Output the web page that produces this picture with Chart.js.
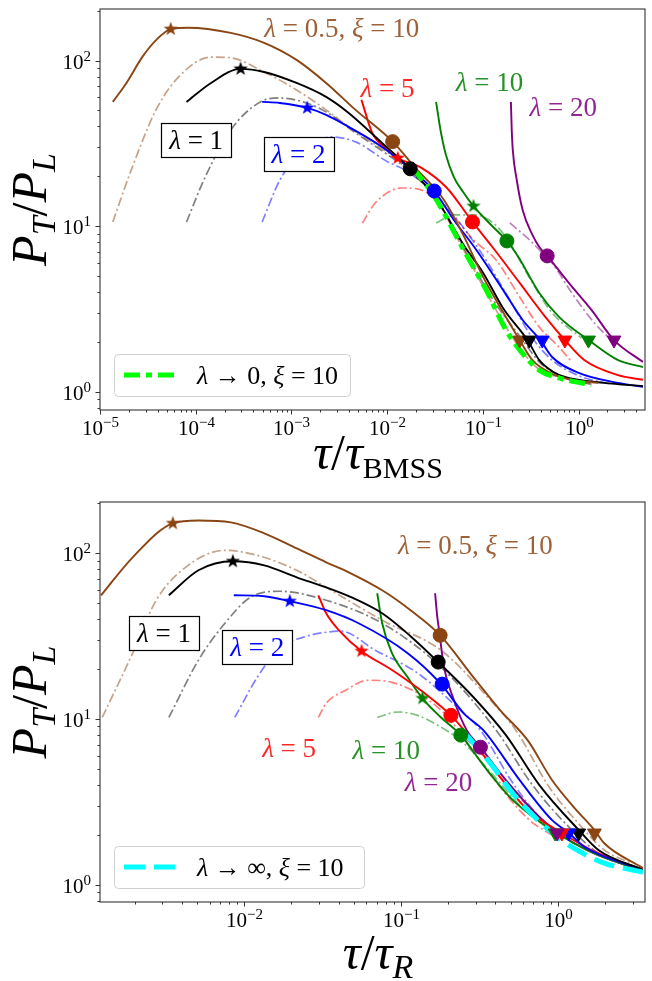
<!DOCTYPE html>
<html>
<head>
<meta charset="utf-8">
<script src="https://cdn.jsdelivr.net/npm/chart.js@4.4.1/dist/chart.umd.min.js"></script>
<style>
  html, body { margin: 0; padding: 0; background: #fff; }
  #wrap { position: relative; width: 652px; height: 981px; }
  canvas { position: absolute; left: 0; }
</style>
</head>
<body>
<div id="wrap">
  <canvas id="topChart" width="652" height="490" style="top:0"></canvas>
  <canvas id="bottomChart" width="652" height="491" style="top:490px"></canvas>
</div>
<script>
const lambdaNames = ['0.5', '1', '2', '5', '10', '20'];
const lambdaColors = ['#8b4513', '#000000', '#0000ff', '#ff0000', '#008000', '#800080'];
const lambdaFaded = ['rgba(139,69,19,0.5)', 'rgba(0,0,0,0.5)', 'rgba(0,0,255,0.5)',
  'rgba(255,0,0,0.5)', 'rgba(0,128,0,0.5)', 'rgba(128,0,128,0.5)'];

// ---- top panel: x = tau / tau_BMSS, y = P_T / P_L ----
const topSolid05 = [[1.36e-5,56.3],[1.89e-5,73.3],[2.76e-5,105],[3.85e-5,133],[5.48e-5,155],[8.4e-5,158],[2.32e-4,147],[5.18e-4,128],[1.13e-3,101],[2.3e-3,73.3],[4.67e-3,50.4],[1.14e-2,32.4],[1.93e-2,22.8],[3.92e-2,14.4],[6.29e-2,8.73],[0.101,4.9],[0.162,3.03],[0.242,2.05],[0.329,1.55],[0.528,1.28],[0.848,1.18],[1.6,1.13]];
const topSolid1 = [[8.01e-5,56.3],[1.445e-4,73.3],[2.94e-4,89.1],[5.18e-4,85.4],[1.13e-3,73.3],[2.3e-3,60.4],[3.96e-3,48.3],[8.84e-3,31.8],[1.74e-2,22.2],[3.32e-2,14.4],[6.29e-2,7.7],[0.101,5.2],[0.162,3.2],[0.292,2.05],[0.388,1.55],[0.528,1.33],[0.718,1.23],[1.85,1.13],[4.7,1.08]];
const topSolid2 = [[4.94e-4,56.3],[7.57e-4,55.5],[1.46e-3,51.8],[2.3e-3,47.0],[3.96e-3,39.8],[8.84e-3,30.1],[1.71e-2,22.3],[3.1e-2,16.3],[4.97e-2,10.9],[8.55e-2,7.18],[0.162,4.12],[0.26,2.71],[0.398,2.05],[0.528,1.62],[1.0,1.30],[2.58,1.13],[4.7,1.07]];
const topSolid5 = [[5.38e-3,57.9],[6.98e-3,36.6],[9.49e-3,29.7],[1.29e-2,25.8],[2.28e-2,22.5],[4.21e-2,17.0],[7.78e-2,10.6],[0.128,7.38],[0.242,4.54],[0.448,2.83],[0.718,2.05],[1.152,1.55],[2.58,1.26],[4.7,1.18]];
const topSolid10 = [[3.24e-2,56.3],[3.65e-2,36.6],[4.11e-2,26.9],[4.97e-2,19.8],[6.29e-2,15.9],[7.97e-2,13.2],[0.119,10.3],[0.178,8.14],[0.231,6.61],[0.388,3.95],[0.623,2.83],[1.267,2.05],[2.58,1.55],[4.7,1.41]];
const topSolid20 = [[0.196,56.3],[0.2,38.1],[0.205,28.9],[0.2256,19.0],[0.26,12.5],[0.329,8.85],[0.388,7.48],[0.469,6.61],[0.789,4.54],[1.36,3.12],[2.34,2.05],[4.7,1.51]];

const topDash05 = [[1.36e-5,10.6],[2.18e-5,22.8],[3.85e-5,50.4],[6.63e-5,79.7],[1.445e-4,105],[2.32e-4,104],[5.18e-4,85.4],[1.13e-3,66.5],[2.3e-3,50.4],[4.67e-3,37.1],[1.02e-2,27.7],[1.52e-2,22.8],[3.1e-2,15.2],[6.29e-2,7.18],[0.128,3.34],[0.231,1.91],[0.37,1.39],[0.848,1.18],[1.36,1.11]];
const topDash1 = [[8.01e-5,10.6],[1.255e-4,19.8],[2.32e-4,38.1],[4.72e-4,56.3],[7.57e-4,59.5],[1.43e-3,55.5],[2.3e-3,49.0],[4.67e-3,36.6],[1.02e-2,26.9],[1.8e-2,21.0],[3.32e-2,14.4],[6.29e-2,7.38],[0.128,3.58],[0.26,2.05],[0.388,1.51],[0.718,1.21],[1.36,1.11]];
const topDash2 = [[4.94e-4,10.6],[7.57e-4,19.0],[1.13e-3,25.8],[2.59e-3,34.6],[4.67e-3,32.3],[1.02e-2,24.4],[1.52e-2,21.9],[3.32e-2,15.2],[9.63e-2,6.89],[0.191,3.58],[0.329,2.11],[0.528,1.55],[1.07,1.23],[2.18,1.11]];
const topDash5 = [[5.51e-3,10.45],[7.5e-3,13.8],[1.42e-2,17.0],[2.07e-2,16.8],[3.32e-2,14.4],[4.97e-2,11.4],[7.97e-2,8.25],[0.137,6.25],[0.242,3.73],[0.388,2.46],[0.623,1.86],[0.848,1.51]];
const topDash10 = [[3.24e-2,10.45],[4.97e-2,11.7],[7.97e-2,11.7],[0.128,10.45],[0.182,8.25],[0.329,4.54],[0.528,2.99],[1.07,2.11]];
const topDash20 = [[0.191,10.45],[0.307,8.25],[0.417,6.89],[0.528,5.99],[0.848,3.95],[1.46,2.60],[2.18,2.05]];

const topLimit = [[1.84e-2,22.5],[3.1e-2,15.2],[6.29e-2,7.18],[0.108,4.12],[0.174,2.36],[0.242,1.79],[0.388,1.35],[0.623,1.21],[1.36,1.10]];

const topStars = [[5.48e-5,155],[2.94e-4,89.1],[1.46e-3,51.8],[1.29e-2,25.8],[7.97e-2,13.2]];
const topCircles = [[1.14e-2,32.4],[1.74e-2,22.2],[3.1e-2,16.3],[7.78e-2,10.6],[0.178,8.14],[0.469,6.61]];
const topTriangles = [[0.242,2.05],[0.305,2.05],[0.417,2.05],[0.718,2.05],[1.267,2.05],[2.34,2.05]];

// ---- bottom panel: x = tau / tau_R ----
const botSolid05 = [[1.22e-3,55.6],[1.94e-3,94.2],[3.5e-3,151],[5.1e-3,157],[8.2e-3,153],[1.34e-2,131.5],[2.16e-2,106.7],[3.33e-2,87.9],[4.64e-2,76.5],[7.58e-2,59.6],[0.115,45.2],[0.178,31.9],[0.29,17.8],[0.4285,11.3],[0.642,7.44],[0.921,4.27],[1.265,2.94],[1.714,2.14],[1.98,1.78],[3.5,1.26]];
const botSolid1 = [[3.3e-3,55.6],[5.1e-3,78.7],[8.45e-3,89.1],[1.34e-2,84.3],[2.16e-2,71.4],[3.33e-2,62.1],[4.64e-2,55],[7.58e-2,43.3],[0.115,31.5],[0.1726,22.0],[0.29,13.5],[0.467,7.98],[0.7635,3.99],[1.36,2.14],[1.816,1.62],[3.5,1.23]];
const botSolid2 = [[8.57e-3,55.6],[1.34e-2,54.9],[1.95e-2,51.2],[3.33e-2,45.2],[5.36e-2,37.7],[0.1103,24.9],[0.18,16.2],[0.2513,10.8],[0.335,8.55],[0.572,4.27],[0.921,2.45],[1.177,2.05],[1.483,1.69],[3.5,1.23]];
const botSolid5 = [[2.97e-2,55.6],[3.33e-2,43.3],[4.02e-2,34.2],[5.6e-2,25.6],[8.76e-2,19.7],[0.141,14.3],[0.208,10.5],[0.278,7.65],[0.4285,4.46],[0.642,2.82],[1.064,2.05],[1.641,1.62],[3.5,1.23]];
const botSolid10 = [[7.05e-2,57.2],[7.58e-2,37.7],[8.76e-2,24.9],[0.1103,17.8],[0.137,13.3],[0.18,10.2],[0.2406,7.98],[0.335,5.26],[0.517,3.24],[0.962,2.08],[1.641,1.57],[3.5,1.21]];
const botSolid20 = [[0.165,57.2],[0.17,42.1],[0.175,34.2],[0.188,20.5],[0.2175,13.0],[0.2624,8.55],[0.321,6.75],[0.467,4.27],[0.7635,2.56],[0.99,2.08],[1.641,1.57],[3.5,1.21]];

const botDash05 = [[1.24e-3,10.2],[1.94e-3,24.9],[2.74e-3,51.9],[4.22e-3,82],[7.52e-3,103.8],[1.21e-2,96.8],[2.16e-2,78.7],[3.33e-2,62.1],[7.58e-2,39.3],[0.18,25.9],[0.371,13.0],[0.54,8.55],[0.882,3.88],[1.42,2.23],[1.98,1.62],[2.92,1.35]];
const botDash1 = [[3.3e-3,10.2],[5.1e-3,22.6],[7.52e-3,37.7],[1.095e-2,54.1],[1.69e-2,58.8],[3.33e-2,51.9],[7.58e-2,37.7],[0.18,20.5],[0.4046,8.55],[0.69,3.99],[1.229,2.14],[1.896,1.51],[3.38,1.23]];
const botDash2 = [[8.69e-3,10.2],[1.21e-2,17.8],[1.69e-2,27.0],[2.39e-2,31.1],[3.33e-2,33.3],[4.13e-2,33.8],[6.85e-2,25.9],[0.1274,18.9],[0.227,11.8],[0.321,8.55],[0.517,4.1],[0.8325,2.35],[1.144,1.91]];
const botDash5 = [[2.97e-2,10.2],[3.33e-2,12.4],[4.44e-2,14.9],[6.19e-2,17.1],[8.76e-2,16.6],[0.141,13.5],[0.202,10.1],[0.27,6.94],[0.4285,3.88],[0.661,2.45],[0.921,1.99]];
const botDash10 = [[7.05e-2,10.2],[9.55e-2,11.0],[0.1274,10.5],[0.18,8.91],[0.2513,7.14],[0.387,4.58],[0.5975,2.90],[0.921,2.08]];
const botDash20 = [[0.2513,7.65],[0.29,6.94],[0.4475,4.27],[0.742,2.63],[0.99,2.08]];

const botLimit = [[0.2624,7.98],[0.371,5.41],[0.54,3.38],[0.8325,2.23],[1.229,1.69],[1.98,1.35],[3.5,1.19]];

const botStars = [[3.5e-3,151],[8.45e-3,89.1],[1.95e-2,51.2],[5.6e-2,25.6],[0.137,13.3]];
const botCircles = [[0.1777,31.9],[0.1726,22.0],[0.183,16.2],[0.208,10.5],[0.2406,7.98],[0.321,6.75]];
const botTriangles = [[1.714,2.05],[1.36,2.05],[1.177,2.05],[1.064,2.05],[0.962,2.05],[0.99,2.05]];

const SERIF = '"Liberation Serif", "DejaVu Serif", serif';
const font = (size, italic) => (italic ? 'italic ' : '') + size + 'px ' + SERIF;

// [text, italic, size, dy]
const NOTE = 27;
const lam = (rest) => [['λ', 1, NOTE], [rest, 0, NOTE]];
const lamXi = (mid) => [['λ', 1, NOTE], [mid, 0, NOTE], ['ξ', 1, NOTE], [' = 10', 0, NOTE]];

function makeStar(color) {
  const c = document.createElement('canvas');
  c.width = 18; c.height = 18;
  const g = c.getContext('2d');
  g.beginPath();
  for (let k = 0; k < 10; k++) {
    const r = k % 2 === 0 ? 7.5 : 3.0;
    const a = -Math.PI / 2 + k * Math.PI / 5;
    g.lineTo(9 + r * Math.cos(a), 9 + r * Math.sin(a));
  }
  g.closePath();
  g.fillStyle = color;
  g.fill();
  return c;
}
const starImages = lambdaColors.map(makeStar);

function lineSet(points, color, dashed, order) {
  return {
    data: points.map(([x, y]) => ({ x, y })),
    showLine: true,
    borderColor: color,
    borderWidth: dashed ? 1.7 : 1.9,
    borderDash: dashed ? [9, 3, 2, 3] : [],
    pointRadius: 0,
    cubicInterpolationMode: 'monotone',
    fill: false,
    order,
  };
}

function markerSet(points, style, radius, rotation) {
  const cols = points.map((_, i) => lambdaColors[i]);
  return {
    data: points.map(([x, y]) => ({ x, y })),
    showLine: false,
    pointStyle: style === 'star' ? points.map((_, i) => starImages[i]) : style,
    pointRadius: radius,
    pointRotation: rotation,
    pointBackgroundColor: cols,
    pointBorderColor: cols,
    pointBorderWidth: 1,
    order: 0,
  };
}

function drawRich(ctx, parts, x, y, align) {
  let w = 0;
  for (const p of parts) { ctx.font = font(p[2], p[1]); w += ctx.measureText(p[0]).width; }
  let cx = align === 'center' ? x - w / 2 : align === 'right' ? x - w : x;
  ctx.textAlign = 'left';
  ctx.textBaseline = 'alphabetic';
  for (const p of parts) {
    ctx.font = font(p[2], p[1]);
    ctx.fillText(p[0], cx, y + (p[3] || 0));
    cx += ctx.measureText(p[0]).width;
  }
  return w;
}

function logTicks(min, max) {
  const out = [];
  for (let e = Math.floor(Math.log10(min)); e <= Math.ceil(Math.log10(max)); e++) {
    for (let m = 1; m < 10; m++) {
      const v = m * Math.pow(10, e);
      if (v >= min * 0.999 && v <= max * 1.001) out.push({ v, major: m === 1, e });
    }
  }
  return out;
}

function powLabel(e) {
  return [['10', 0, 21], [e < 0 ? '\u2212' + (-e) : String(e), 0, 15, -8]];
}

const panelDecor = {
  id: 'panelDecor',
  afterDraw(chart, args, o) {
    const ctx = chart.ctx;
    const a = chart.chartArea;
    const xs = chart.scales.x, ys = chart.scales.y;
    ctx.save();
    ctx.strokeStyle = '#333';
    ctx.fillStyle = '#000';
    ctx.lineWidth = 1.1;
    ctx.strokeRect(a.left, a.top, a.right - a.left + 2, a.bottom - a.top);

    ctx.lineWidth = 1;
    for (const t of logTicks(xs.min, xs.max)) {
      const px = Math.round(xs.getPixelForValue(t.v)) + 0.5;
      ctx.beginPath();
      ctx.moveTo(px, a.bottom);
      ctx.lineTo(px, a.bottom + (t.major ? 4.5 : 2.5));
      ctx.stroke();
      if (t.major) drawRich(ctx, powLabel(t.e), px, a.bottom + 25, 'center');
    }
    for (const t of logTicks(ys.min, ys.max)) {
      const py = Math.round(ys.getPixelForValue(t.v)) + 0.5;
      ctx.beginPath();
      ctx.moveTo(a.left, py);
      ctx.lineTo(a.left - (t.major ? 4.5 : 2.5), py);
      ctx.stroke();
      if (t.major) drawRich(ctx, powLabel(t.e), a.left - 9, py + 7, 'right');
    }

    // axis titles
    drawRich(ctx, o.xTitle, o.xTitleX, a.bottom + o.xTitleDy, 'center');
    ctx.save();
    ctx.translate(46, (a.top + a.bottom) / 2);
    ctx.rotate(-Math.PI / 2);
    drawRich(ctx, [['P', 1, 50], ['T', 1, 34, 9], ['/', 0, 50], ['P', 1, 50], ['L', 1, 34, 9]], 0, 0, 'center');
    ctx.restore();

    // text labels placed in data coordinates
    for (const n of o.notes) {
      const px = xs.getPixelForValue(n.x), py = ys.getPixelForValue(n.y);
      if (n.box) {
        let w = 0;
        for (const p of n.text) { ctx.font = font(p[2], p[1]); w += ctx.measureText(p[0]).width; }
        const bw = w + 16, bh = 34;
        ctx.fillStyle = '#fff';
        ctx.fillRect(px - bw / 2, py - bh / 2, bw, bh);
        ctx.strokeStyle = '#000';
        ctx.lineWidth = 1.2;
        ctx.strokeRect(Math.round(px - bw / 2) + 0.5, Math.round(py - bh / 2) + 0.5, Math.round(bw), bh);
        ctx.fillStyle = n.color;
        drawRich(ctx, n.text, px, py + 9, 'center');
      } else {
        ctx.fillStyle = n.color;
        drawRich(ctx, n.text, px, py + 9, n.align || 'left');
      }
    }

    // legend
    const L = o.legend;
    const lx = a.left + 14, ly = a.bottom - 14 - 42;
    ctx.fillStyle = 'rgba(255,255,255,0.85)';
    ctx.strokeStyle = '#d0d0d0';
    ctx.lineWidth = 1;
    ctx.beginPath();
    ctx.roundRect(lx + 0.5, ly + 0.5, L.width, 42, 4);
    ctx.fill();
    ctx.stroke();
    ctx.strokeStyle = L.color;
    ctx.lineWidth = 5;
    ctx.setLineDash(L.dash);
    ctx.beginPath();
    ctx.moveTo(lx + 10, ly + 21);
    ctx.lineTo(lx + 61, ly + 21);
    ctx.stroke();
    ctx.setLineDash([]);
    ctx.fillStyle = '#000';
    drawRich(ctx, L.text, lx + 83, ly + 30, 'left');
    ctx.restore();
  }
};

function buildPanel(id, p) {
  const datasets = [];
  p.markers.forEach(m => datasets.push(m));
  datasets.push({
    ...lineSet(p.limit, p.limitColor, false, 1),
    borderWidth: 5,
    borderDash: p.limitDash,
  });
  p.solid.forEach((pts, i) => datasets.push(lineSet(pts, lambdaColors[i], false, 2)));
  p.dash.forEach((pts, i) => datasets.push(lineSet(pts, lambdaFaded[i], true, 3)));

  return new Chart(document.getElementById(id), {
    type: 'scatter',
    data: { datasets },
    options: {
      responsive: false,
      animation: false,
      events: [],
      layout: { padding: { left: 100, top: p.top, right: 0, bottom: p.bottom } },
      scales: {
        x: { type: 'logarithmic', min: p.xMin, max: p.xMax, display: false },
        y: { type: 'logarithmic', min: p.yMin, max: p.yMax, display: false },
      },
      plugins: {
        legend: { display: false },
        tooltip: { enabled: false },
        panelDecor: {
          xTitle: p.xTitle, xTitleX: p.xTitleX, xTitleDy: p.xTitleDy,
          notes: p.notes, legend: p.legend,
        },
      },
    },
    plugins: [panelDecor],
  });
}

buildPanel('topChart', {
  top: 9, bottom: 80,
  xMin: 1e-5, xMax: 4.7, yMin: 0.775, yMax: 205,
  solid: [topSolid05, topSolid1, topSolid2, topSolid5, topSolid10, topSolid20],
  dash: [topDash05, topDash1, topDash2, topDash5, topDash10, topDash20],
  limit: topLimit, limitColor: '#00ff00', limitDash: [16, 6, 6, 6],
  markers: [
    markerSet(topStars, 'star', 7, 0),
    markerSet(topCircles, 'circle', 7, 0),
    markerSet(topTriangles, 'triangle', 8, 180),
  ],
  xTitle: [['τ', 1, 50], ['/', 0, 50], ['τ', 1, 50], ['BMSS', 0, 30, 9]],
  xTitleX: 378, xTitleDy: 59,
  notes: [
    { x: 5.2e-4, y: 158, color: 'rgba(139,69,19,0.85)', text: lamXi(' = 0.5, ') },
    { x: 5.26e-3, y: 68.4, color: 'rgba(255,0,0,0.85)', text: lam(' = 5') },
    { x: 5.21e-2, y: 74.3, color: 'rgba(0,128,0,0.85)', text: lam(' = 10') },
    { x: 0.307, y: 52.5, color: 'rgba(128,0,128,0.85)', text: lam(' = 20') },
    { x: 1.01e-4, y: 33.2, color: '#000', box: true, text: lam(' = 1') },
    { x: 1.186e-3, y: 27.3, color: '#0000ff', box: true, text: lam(' = 2') },
  ],
  legend: { width: 236, color: '#00ff00', dash: [16, 6, 6, 6], text: [['λ', 1, 26], [' → 0, ', 0, 26], ['ξ', 1, 26], [' = 10', 0, 26]] },
});

buildPanel('bottomChart', {
  top: 12, bottom: 79,
  xMin: 1.2e-3, xMax: 3.5, yMin: 0.787, yMax: 203,
  solid: [botSolid05, botSolid1, botSolid2, botSolid5, botSolid10, botSolid20],
  dash: [botDash05, botDash1, botDash2, botDash5, botDash10, botDash20],
  limit: botLimit, limitColor: '#00ffff', limitDash: [21, 9],
  markers: [
    markerSet(botStars, 'star', 7, 0),
    markerSet(botCircles, 'circle', 7, 0),
    markerSet(botTriangles, 'triangle', 8, 180),
  ],
  xTitle: [['τ', 1, 50], ['/', 0, 50], ['τ', 1, 50], ['R', 1, 34, 9]],
  xTitleX: 378, xTitleDy: 67,
  notes: [
    { x: 9.55e-2, y: 111.3, color: 'rgba(139,69,19,0.85)', text: lamXi(' = 0.5, ') },
    { x: 3.07e-3, y: 32.8, color: '#000', box: true, text: lam(' = 1') },
    { x: 1.21e-2, y: 27.0, color: '#0000ff', box: true, text: lam(' = 2') },
    { x: 1.30e-2, y: 6.66, color: 'rgba(255,0,0,0.85)', text: lam(' = 5') },
    { x: 4.91e-2, y: 6.48, color: 'rgba(0,128,0,0.85)', text: lam(' = 10') },
    { x: 0.1056, y: 4.16, color: 'rgba(128,0,128,0.85)', text: lam(' = 20') },
  ],
  legend: { width: 250, color: '#00ffff', dash: [21, 9], text: [['λ', 1, 26], [' → ∞, ', 0, 26], ['ξ', 1, 26], [' = 10', 0, 26]] },
});
</script>
</body>
</html>
